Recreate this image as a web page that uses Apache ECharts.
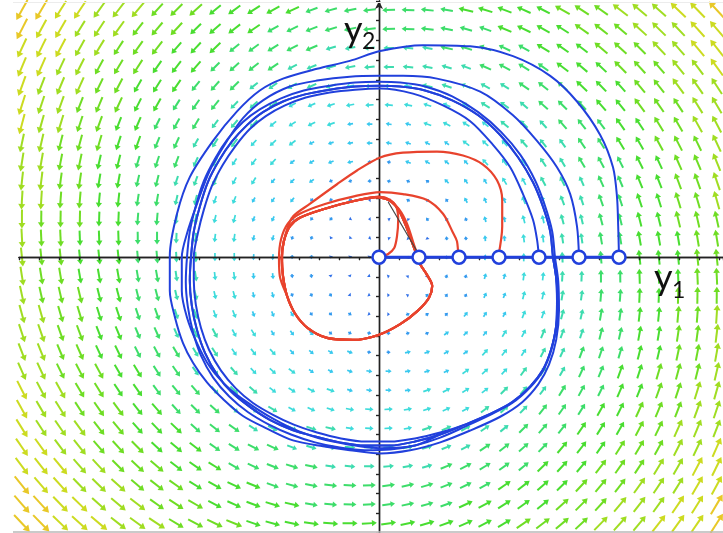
<!DOCTYPE html>
<html>
<head>
<meta charset="utf-8">
<script src="https://cdn.jsdelivr.net/npm/echarts@6/dist/echarts.min.js"></script>
<style>html,body{margin:0;padding:0;background:#fff}#c{width:723px;height:533px}</style>
</head>
<body>
<div id="c"></div>
<script>
// ---------- data (units: circle spacing = 1) ----------
// starting points of the trajectories on the y1 axis
const startPoints = [0, 1, 2, 3, 4, 5, 6];

// direction field: sampling step and per-radius-band speed / inward tilt (deg)
const fieldStep = 0.4825;
const fieldBandSpeed = [0.05, 0.1, 0.2, 0.3, 0.42, 0.53, 0.64, 0.75, 0.85, 0.95, 1.05, 1.15, 1.22];
const fieldBandTilt = [-10, -10, -5, -5, 0, 3, 5, 6, 6, 6, 6, 6, 6];

// outer (blue) limit cycle
const blueLimitCycle = [
[4.35,0],[4.28,0.65],[4.1,1.28],[3.85,1.9],[3.48,2.53],[3.03,3.1],[2.48,3.6],[1.83,3.98],[1.15,4.23],[0.53,4.33],[0,4.35],[-0.6,4.33],[-1.23,4.25],[-1.85,4.13],[-2.4,3.95],[-2.9,3.68],[-3.3,3.35],[-3.68,2.93],[-4.0,2.45],[-4.28,1.9],[-4.48,1.28],[-4.63,0.65],[-4.7,0],[-4.73,-0.6],[-4.68,-1.23],[-4.55,-1.85],[-4.35,-2.43],[-4.05,-2.98],[-3.68,-3.43],[-3.23,-3.8],[-2.73,-4.13],[-2.18,-4.38],[-1.6,-4.55],[-0.98,-4.7],[-0.35,-4.78],[0.28,-4.78],[0.9,-4.68],[1.53,-4.5],[2.15,-4.25],[2.78,-3.98],[3.33,-3.68],[3.78,-3.28],[4.1,-2.85],[4.3,-2.35],[4.43,-1.73],[4.45,-1.1],[4.43,-0.53],[4.35,0]
];

// blue trajectory from y1 = 6
const blueFromSix = [
[6.0,0],[5.98,0.78],[5.95,1.53],[5.85,2.28],[5.53,3.1],[4.95,3.95],[4.28,4.6],[3.35,5.1],[2.28,5.35],[1.1,5.38],[0.03,5.23],[-0.73,4.98],[-1.55,4.78],[-2.4,4.53],[-2.98,4.23],[-3.55,3.7],[-4.15,2.95],[-4.73,2.03],[-5.05,1.1],[-5.23,0.03],[-5.23,-0.85],[-5.1,-1.53],[-4.9,-2.18],[-4.65,-2.68],[-4.3,-3.18],[-3.9,-3.6],[-3.4,-4.03],[-2.8,-4.35],[-2.15,-4.65],[-1.4,-4.8],[-0.73,-4.9],[0.03,-4.98],[0.78,-4.9],[1.53,-4.7],[2.28,-4.4],[3.03,-4.05],[3.58,-3.68],[3.98,-3.23],[4.25,-2.73],[4.43,-2.1],[4.5,-1.35],[4.48,-0.6],[4.4,0],
[4.33,0.65],[4.15,1.3],[3.9,1.95],[3.53,2.6],[3.05,3.18],[2.48,3.68],[1.83,4.08],[1.15,4.33],[0.53,4.43],[0,4.45],[-0.6,4.43],[-1.23,4.35],[-1.88,4.23],[-2.45,4.03],[-2.98,3.75],[-3.4,3.43],[-3.78,3.0],[-4.1,2.5],[-4.38,1.93],[-4.58,1.3],[-4.73,0.65],[-4.8,0],[-4.83,-0.63],[-4.78,-1.25],[-4.65,-1.9],[-4.45,-2.5],[-4.15,-3.05],[-3.75,-3.53],[-3.28,-3.93],[-2.75,-4.25],[-2.2,-4.5],[-1.6,-4.7],[-0.98,-4.83],[-0.35,-4.9],[0.28,-4.88],[0.9,-4.78],[1.53,-4.58],[2.15,-4.3],[2.78,-4.0],[3.33,-3.7],[3.78,-3.3],[4.1,-2.88],[4.3,-2.38],[4.43,-1.75],[4.48,-1.1],[4.43,-0.53],[4.35,0]
];

// blue trajectory from y1 = 5 (first turn, then follows the cycle)
const blueFromFive = [
[5.0,0],[4.95,0.78],[4.78,1.6],[4.45,2.28],[3.95,2.95],[3.35,3.6],[2.53,4.2],[1.45,4.53],[0.6,4.6],[0,4.6],[-0.73,4.58],[-1.55,4.48],[-2.23,4.33],[-2.9,3.98],[-3.4,3.53],[-3.8,2.95],[-4.23,2.2],[-4.55,1.35],[-4.8,0.6],[-4.93,0],[-4.93,-0.85],[-4.8,-1.53],[-4.55,-2.18],[-4.23,-2.78],[-3.8,-3.28],[-3.3,-3.68],[-2.65,-4.1],[-1.98,-4.43],[-1.15,-4.68],[0.03,-4.85],[0.9,-4.78]
];

// blue trajectory from y1 = 4 (inside the cycle)
const blueFromFour = [
[4.0,0],[3.95,0.45],[3.85,0.95],[3.6,1.6],[3.28,2.28],[2.85,2.85],[2.28,3.45],[1.6,3.85],[0.85,4.15],[0.03,4.28],[-0.6,4.25],[-1.23,4.18],[-1.83,4.05],[-2.35,3.85],[-2.83,3.58],[-3.23,3.25],[-3.58,2.83],[-3.9,2.35],[-4.18,1.8],[-4.38,1.2],[-4.53,0.6],[-4.63,0],[-4.63,-0.6],[-4.58,-1.2],[-4.45,-1.8],[-4.25,-2.35],[-3.95,-2.88],[-3.58,-3.33],[-3.15,-3.7],[-2.65,-4.0],[-2.13,-4.25],[-1.55,-4.45],[-0.95,-4.6],[-0.33,-4.68],[0.28,-4.68],[0.9,-4.6],[1.53,-4.45]
];

// inner (red) limit cycle
const redLimitCycle = [
[-0.03,1.53],[-0.6,1.43],[-1.35,1.23],[-1.98,1.0],[-2.23,0.78],[-2.38,0.4],[-2.43,-0.03],[-2.4,-0.48],[-2.3,-0.98],[-2.1,-1.43],[-1.78,-1.8],[-1.3,-2.05],[-0.65,-2.1],[-0.03,-1.98],[0.53,-1.7],[0.98,-1.35],[1.25,-1.03],[1.33,-0.73],[1.2,-0.45],[1.03,-0.18],[0.88,0.23],[0.68,0.78],[0.5,1.18],[0.28,1.43],[-0.03,1.53]
];
const redFromZero = [[0.05,0],[0.23,0.08],[0.38,0.23],[0.45,0.53],[0.48,0.95],[0.43,1.28],[0.28,1.45],[0.03,1.53]];
const redFromOne = [[0.98,0],[0.88,0.3],[0.7,0.85],[0.5,1.22],[0.25,1.45],[0,1.52]];
const redFromTwo = [[1.98,0],[1.95,0.4],[1.85,0.62],[1.6,1.1],[1.2,1.45],[0.6,1.6],[0.03,1.65],[-0.6,1.55],[-1.35,1.35],[-1.98,1.1],[-2.28,0.85],[-2.45,0.45],[-2.5,-0.03],[-2.48,-0.48]];
const redFromThree = [[2.98,0],[3.08,0.78],[3.08,1.45],[2.95,1.95],[2.6,2.35],[2.1,2.58],[1.45,2.68],[0.6,2.65],[0.03,2.53],[-0.55,2.2],[-1.05,1.85],[-1.73,1.35],[-2.15,1.03],[-2.33,0.6],[-2.42,0.03]];
const darkSegment = [[0.23,1.4],[0.95,0.15]];

// ---------- build ----------
const BLUE = '#2140dc';
const RED = '#e8432d';

const fieldData = [];
for (let j = -14; j <= 13; j++) {
  for (let k = -19; k <= 17; k++) {
    const x = (k + 0.5) * fieldStep, y = j * fieldStep;
    const r = Math.hypot(x, y);
    const band = Math.min(fieldBandSpeed.length - 1, Math.round(r));
    const ang = Math.atan2(y, x) * 180 / Math.PI + 90 + fieldBandTilt[band];
    fieldData.push([x, y, ang, fieldBandSpeed[band]]);
  }
}

function renderArrow(params, api) {
  const p = api.coord([api.value(0), api.value(1)]);
  const a = api.value(2) * Math.PI / 180;
  const len = Math.max(2.6, api.value(3) * 20);
  const dx = Math.cos(a), dy = -Math.sin(a);
  const tail = [p[0] - dx * len / 2, p[1] - dy * len / 2];
  const tip = [p[0] + dx * len / 2, p[1] + dy * len / 2];
  const h = Math.min(len, 2.2 + len * 0.18);
  const w = h * 0.48 + 0.8;
  const base = [tip[0] - dx * h, tip[1] - dy * h];
  const color = api.visual('color');
  const children = [];
  if (len > h + 0.5) {
    children.push({type: 'line', shape: {x1: tail[0], y1: tail[1], x2: base[0] + dx * 0.6, y2: base[1] + dy * 0.6},
      style: {stroke: color, lineWidth: len > 10 ? 2 : 1.7}});
  }
  children.push({type: 'polygon', shape: {points: [tip, [base[0] - dy * w, base[1] + dx * w], [base[0] + dy * w, base[1] - dx * w]]},
    style: {fill: color}});
  return {type: 'group', children};
}

function traj(data, color, width) {
  return {type: 'line', data, smooth: 0.3, symbol: 'none', clip: false,
    lineStyle: {color, width}, z: 5, silent: true};
}

const axisCommon = {
  type: 'value', interval: 0.5, axisLabel: {show: false}, splitLine: {show: false},
  axisLine: {onZero: true, lineStyle: {color: '#222', width: 1.4}},
  z: 3
};

const chart = echarts.init(document.getElementById('c'), null, {renderer: 'canvas'});
chart.setOption({
  animation: false,
  backgroundColor: '#fff',
  grid: {left: 19, right: 0, top: 1, bottom: -8},
  xAxis: [
    Object.assign({}, axisCommon, {min: -9, max: 8.6, axisTick: {length: 3, inside: false, lineStyle: {color: '#222', width: 1.2}}}),
    Object.assign({}, axisCommon, {min: -9, max: 8.6, axisTick: {length: 3, inside: true, lineStyle: {color: '#222', width: 1.2}}})
  ],
  yAxis: [
    Object.assign({}, axisCommon, {min: -7, max: 6.5, axisTick: {length: 3, inside: false, lineStyle: {color: '#222', width: 1.2}},
      axisLine: {onZero: true, symbol: ['none', 'arrow'], symbolSize: [6, 8], lineStyle: {color: '#222', width: 1.4}}}),
    Object.assign({}, axisCommon, {min: -7, max: 6.5, axisTick: {length: 3, inside: true, lineStyle: {color: '#222', width: 1.2}}})
  ],
  visualMap: {
    show: false, type: 'continuous', seriesIndex: 0, dimension: 3, min: 0, max: 1.3,
    inRange: {color: ['#2c5ee0', '#3070e8', '#3399ee', '#38c8ee', '#3ddbe2', '#3ddcc0', '#3ddd88', '#3ddd3d', '#55dd25', '#88dd22', '#b8dd22', '#e0d820', '#f0b830', '#f08a30']}
  },
  series: [
    {type: 'custom', renderItem: renderArrow, data: fieldData, clip: false, z: 1, silent: true},
    traj(blueFromSix, BLUE, 2),
    traj(blueFromFive.concat(blueLimitCycle.slice(37), blueLimitCycle.slice(1)), BLUE, 2),
    traj(blueFromFour.concat(blueLimitCycle.slice(38), blueLimitCycle.slice(1)), BLUE, 2),
    traj(redFromZero.concat(redLimitCycle.slice(1)), RED, 2.2),
    traj(redFromOne.concat(redLimitCycle.slice(1)), RED, 2.2),
    traj(redFromTwo.concat(redLimitCycle.slice(8), redLimitCycle.slice(1)), RED, 2.2),
    traj(redFromThree.concat(redLimitCycle.slice(7), redLimitCycle.slice(1)), RED, 2.2),
    {type: 'line', data: darkSegment, symbol: 'none', lineStyle: {color: '#444', width: 1.2}, z: 6, silent: true},
    {type: 'line', data: [[startPoints[0], 0], [startPoints[startPoints.length - 1], 0]], symbol: 'none',
      lineStyle: {color: BLUE, width: 3}, z: 6, silent: true},
    {type: 'scatter', data: startPoints.map(v => [v, 0]), symbol: 'circle', symbolSize: 13,
      itemStyle: {color: '#fff', borderColor: BLUE, borderWidth: 2.5, opacity: 1}, z: 7, silent: true}
  ],
  graphic: [
    {type: 'line', shape: {x1: 13, y1: 532, x2: 723, y2: 532}, style: {stroke: '#b8b8b8', lineWidth: 1.5}, z: 20},
    {type: 'line', shape: {x1: 13, y1: 2.5, x2: 723, y2: 2.5}, style: {stroke: '#ececec', lineWidth: 1}, z: 20},
    {type: 'text', x: 344, y: 30, style: {text: 'y', font: '36px Lato', fill: '#111', align: 'left', verticalAlign: 'middle'}, z: 20},
    {type: 'text', x: 362, y: 42, style: {text: '2', font: '23px Lato', fill: '#111', align: 'left', verticalAlign: 'middle'}, z: 20},
    {type: 'text', x: 654, y: 278, style: {text: 'y', font: '36px Lato', fill: '#111', align: 'left', verticalAlign: 'middle'}, z: 20},
    {type: 'text', x: 672, y: 291, style: {text: '1', font: '23px Lato', fill: '#111', align: 'left', verticalAlign: 'middle'}, z: 20}
  ]
});
</script>
</body>
</html>
